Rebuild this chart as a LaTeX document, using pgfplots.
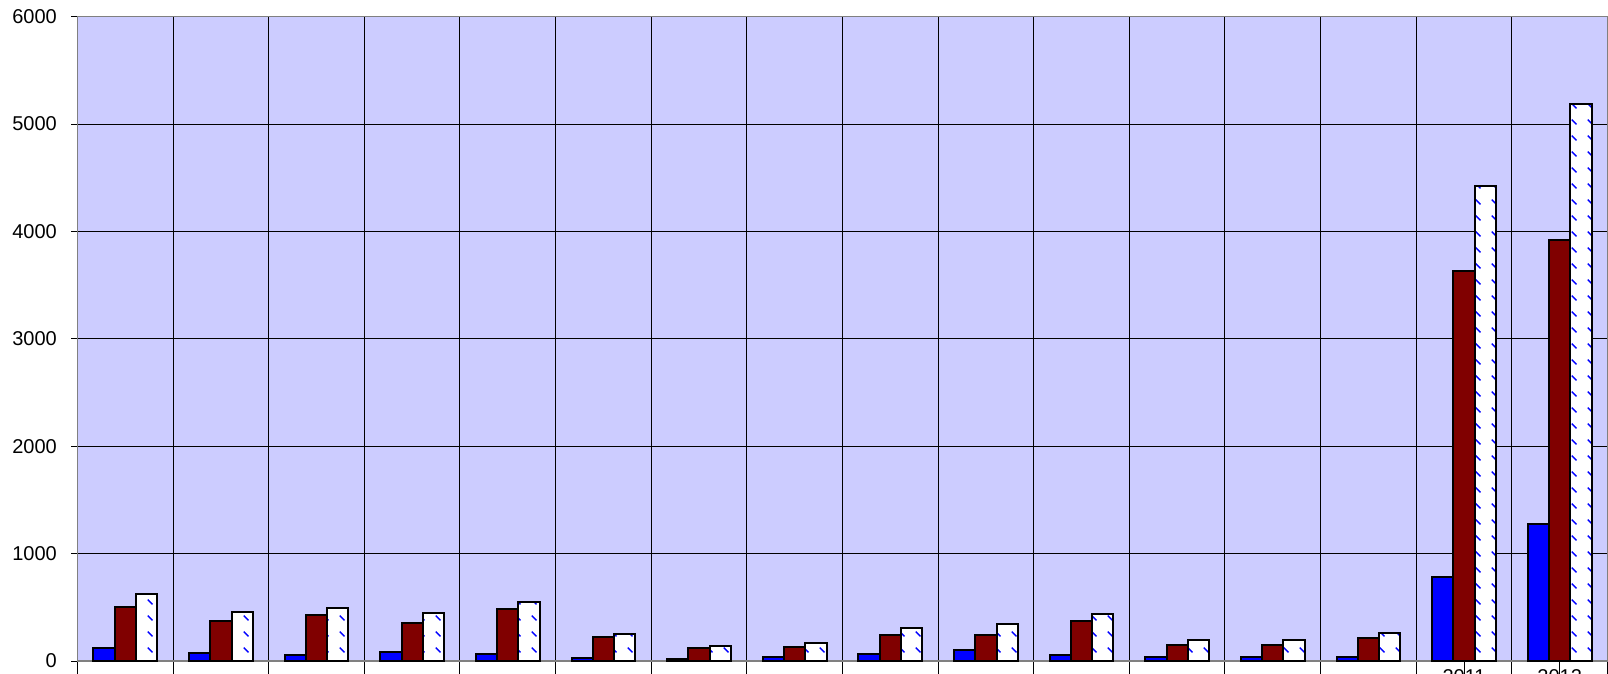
\documentclass[border=0pt]{standalone}
\usepackage{fontspec}
\setmainfont{Liberation Sans}
\usepackage{pgfplots}
\pgfplotsset{compat=1.18}
\usetikzlibrary{patterns}
\definecolor{bg}{HTML}{CCCCFF}
\definecolor{dred}{HTML}{800000}
\definecolor{bblue}{HTML}{0000FF}
\pgfdeclarepatternformonly{bluedash}{\pgfqpoint{0bp}{0bp}}{\pgfqpoint{16bp}{16bp}}{\pgfqpoint{16bp}{16bp}}{%
  \pgfsetlinewidth{1.4bp}%
  \pgfpathmoveto{\pgfqpoint{4bp}{12bp}}%
  \pgfpathlineto{\pgfqpoint{9bp}{7bp}}%
  \pgfusepath{stroke}%
}
\begin{document}
\begin{tikzpicture}
\begin{axis}[
  scale only axis, width=1530bp, height=644.3bp,
  xmin=0.5, xmax=16.5, ymin=0, ymax=6000,
  axis background/.style={fill=bg},
  ytick={0,1000,...,6000},
  xtick={0.5,1.5,...,16.5},
  xticklabels={},
  xmajorgrids, ymajorgrids,
  grid style={black, line width=1bp},
  axis line style={draw=gray, line width=1.6bp},
  tick style={black, line width=1bp},
  tick align=outside,
  xtick pos=bottom, ytick pos=left,
  major tick length=6bp,
  x tick style={/pgfplots/major tick length=16bp},
  extra x ticks={15,16},
  extra x tick labels={2011,2012},
  extra x tick style={grid=none, /pgfplots/major tick length=0pt,
     xticklabel style={inner sep=0pt, anchor=north, yshift=-8bp}},
  tick label style={font=\fontsize{20bp}{24bp}\selectfont},
  yticklabel style={inner sep=0pt, anchor=east, xshift=-14.5bp},
  /pgf/number format/assume math mode=true,
  /pgf/number format/1000 sep={},
  bar width=0.222,
]
\addplot[ybar, bar shift=-0.222, fill=bblue, draw=black, line width=2bp] coordinates {
(1,118) (2,75) (3,59) (4,87) (5,65) (6,25) (7,20) (8,37) (9,62) (10,102) (11,53) (12,37) (13,37) (14,37) (15,786) (16,1280)};
\addplot[ybar, bar shift=0, fill=dred, draw=black, line width=2bp] coordinates {
(1,500) (2,370) (3,426) (4,354) (5,482) (6,227) (7,118) (8,127) (9,239) (10,239) (11,373) (12,152) (13,152) (14,214) (15,3636) (16,3922)};
\addplot[ybar, bar shift=0.222, fill=white, draw=black, line width=2bp,
  postaction={pattern=bluedash, pattern color=bblue}] coordinates {
(1,627) (2,454) (3,491) (4,444) (5,550) (6,255) (7,140) (8,168) (9,310) (10,348) (11,435) (12,193) (13,193) (14,258) (15,4419) (16,5187)};
\end{axis}
\pgfresetboundingbox
\useasboundingbox (-77.5bp,-13bp) rectangle (1530.5bp,661bp);
\end{tikzpicture}
\end{document}
